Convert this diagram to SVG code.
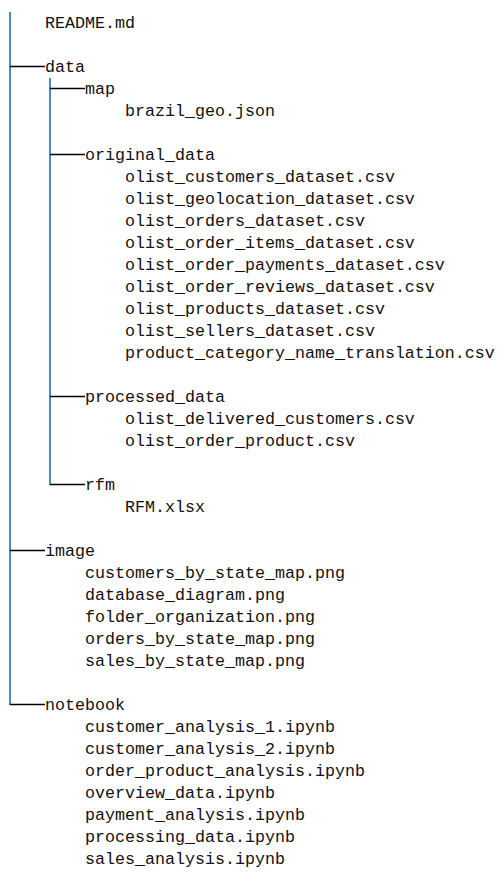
<svg xmlns="http://www.w3.org/2000/svg" width="503" height="883" viewBox="0 0 503 883">
<style>
text{font-family:"Liberation Mono","DejaVu Sans Mono",monospace;font-size:16.67px;fill:#111}
.v{stroke:#1a6fc0;stroke-width:1.6;fill:none}
.h{stroke:#000;stroke-width:1.3;fill:none}
</style>
<rect width="503" height="883" fill="#fff"/>
<g id="connectors">
<line class="v" x1="10" y1="12" x2="10" y2="705"/>
<line class="v" x1="50" y1="78" x2="50" y2="485"/>
<line class="h" x1="10" y1="66.5" x2="45" y2="66.5"/>
<line class="h" x1="10" y1="550.5" x2="45" y2="550.5"/>
<line class="h" x1="10" y1="704.5" x2="45" y2="704.5"/>
<line class="h" x1="50" y1="88.5" x2="85" y2="88.5"/>
<line class="h" x1="50" y1="154.5" x2="85" y2="154.5"/>
<line class="h" x1="50" y1="396.5" x2="85" y2="396.5"/>
<line class="h" x1="50" y1="484.5" x2="85" y2="484.5"/>
</g>
<g id="readme"><text x="45" y="28">README.md</text></g>
<g id="data"><text x="45" y="72">data</text></g>
<g id="map"><text x="85" y="94">map</text>
<text x="125" y="116">brazil_geo.json</text></g>
<g id="original_data"><text x="85" y="160">original_data</text>
<text x="125" y="182">olist_customers_dataset.csv</text>
<text x="125" y="204">olist_geolocation_dataset.csv</text>
<text x="125" y="226">olist_orders_dataset.csv</text>
<text x="125" y="248">olist_order_items_dataset.csv</text>
<text x="125" y="270">olist_order_payments_dataset.csv</text>
<text x="125" y="292">olist_order_reviews_dataset.csv</text>
<text x="125" y="314">olist_products_dataset.csv</text>
<text x="125" y="336">olist_sellers_dataset.csv</text>
<text x="125" y="358">product_category_name_translation.csv</text></g>
<g id="processed_data"><text x="85" y="402">processed_data</text>
<text x="125" y="424">olist_delivered_customers.csv</text>
<text x="125" y="446">olist_order_product.csv</text></g>
<g id="rfm"><text x="85" y="490">rfm</text>
<text x="125" y="512">RFM.xlsx</text></g>
<g id="image"><text x="45" y="556">image</text>
<text x="85" y="578">customers_by_state_map.png</text>
<text x="85" y="600">database_diagram.png</text>
<text x="85" y="622">folder_organization.png</text>
<text x="85" y="644">orders_by_state_map.png</text>
<text x="85" y="666">sales_by_state_map.png</text></g>
<g id="notebook"><text x="45" y="710">notebook</text>
<text x="85" y="732">customer_analysis_1.ipynb</text>
<text x="85" y="754">customer_analysis_2.ipynb</text>
<text x="85" y="776">order_product_analysis.ipynb</text>
<text x="85" y="798">overview_data.ipynb</text>
<text x="85" y="820">payment_analysis.ipynb</text>
<text x="85" y="842">processing_data.ipynb</text>
<text x="85" y="864">sales_analysis.ipynb</text></g>
</svg>
